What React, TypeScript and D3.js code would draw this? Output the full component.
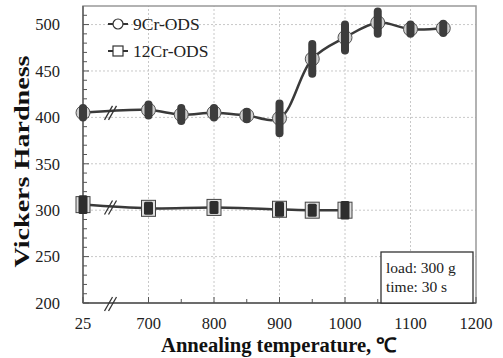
import React from "react";
import * as d3 from "d3";

// annealing temperatures (25 = as-received, drawn at the broken axis start)
const temps9Cr = [25, 700, 750, 800, 850, 900, 950, 1000, 1050, 1100, 1150];
const hv9Cr = [405, 408, 403, 405, 402, 399, 463, 486, 502, 495, 496];
const err9Cr = [5, 6, 7, 5, 4, 16, 16, 14, 12, 5, 5];

const temps12Cr = [25, 700, 800, 900, 950, 1000];
const hv12Cr = [306, 302, 303, 301, 300, 300];
const err12Cr = [10, 7, 7, 8, 7, 10];

const xTickValues = [600, 700, 800, 900, 1000, 1100, 1200];
const xTickLabels = ["25", "700", "800", "900", "1000", "1100", "1200"];
const yTicks = [200, 250, 300, 350, 400, 450, 500];

const W = 503;
const H = 358;
const m = { left: 83, right: 27, top: 6, bottom: 55 };

export default function App() {
  const x = d3.scaleLinear().domain([600, 1200]).range([m.left, W - m.right]);
  const y = d3.scaleLinear().domain([200, 520]).range([H - m.bottom, m.top]);
  const xPos = (t: number) => x(t === 25 ? 600 : t);

  const line = d3
    .line<[number, number]>()
    .x((d) => xPos(d[0]))
    .y((d) => y(d[1]))
    .curve(d3.curveCatmullRom.alpha(0.5));

  const pts9 = temps9Cr.map((t, i) => [t, hv9Cr[i]] as [number, number]);
  const pts12 = temps12Cr.map((t, i) => [t, hv12Cr[i]] as [number, number]);

  const x0 = x.range()[0];
  const x1 = x.range()[1];
  const y0 = y.range()[0];
  const y1 = y.range()[1];
  const minorX = [750, 850, 950, 1050, 1150];
  const minorY = d3.range(210, 520, 10).filter((v) => v % 50 !== 0);
  const breakX = x(642);

  const breakMark = (cx: number, cy: number, k: number) => (
    <g key={k} stroke="#333" strokeWidth={1.3}>
      <line x1={cx - 6} y1={cy + 8} x2={cx + 2} y2={cy - 6} />
      <line x1={cx - 2} y1={cy + 8} x2={cx + 6} y2={cy - 6} />
    </g>
  );

  return (
    <svg
      width={W}
      height={H}
      style={{ position: "absolute", left: 0, top: 0, background: "#fff" }}
      fontFamily="'Liberation Serif', 'Times New Roman', serif"
    >
      {/* grid */}
      <g stroke="#c8c8c8" strokeDasharray="2,2" strokeWidth={1}>
        {yTicks.slice(1).map((v) => (
          <line key={"gy" + v} x1={x0} x2={x1} y1={y(v)} y2={y(v)} />
        ))}
        {xTickValues.slice(1, -1).map((v) => (
          <line key={"gx" + v} x1={x(v)} x2={x(v)} y1={y0} y2={y1} />
        ))}
      </g>

      {/* frame */}
      <rect x={x0} y={y1} width={x1 - x0} height={y0 - y1} fill="none" stroke="#999" strokeWidth={1.5} />
      <line x1={x0} x2={x0} y1={y0} y2={y1} stroke="#555" strokeWidth={1.3} />
      <line x1={x0} x2={x1} y1={y0} y2={y0} stroke="#555" strokeWidth={1.3} />

      {/* ticks */}
      <g stroke="#555" strokeWidth={1}>
        {yTicks.map((v) => (
          <line key={"ty" + v} x1={x0} x2={x0 + 6} y1={y(v)} y2={y(v)} />
        ))}
        {minorY.map((v) => (
          <line key={"my" + v} x1={x0} x2={x0 + 4} y1={y(v)} y2={y(v)} />
        ))}
        {xTickValues.map((v) => (
          <line key={"tx" + v} x1={x(v)} x2={x(v)} y1={y0} y2={y0 - 6} />
        ))}
        {minorX.map((v) => (
          <line key={"mx" + v} x1={x(v)} x2={x(v)} y1={y0} y2={y0 - 4} />
        ))}
      </g>

      {/* tick labels */}
      <g fontSize={16.5} fill="#222">
        {yTicks.map((v) => (
          <text key={"ly" + v} x={x0 - 23} y={y(v)} dy="0.35em" textAnchor="end">
            {v}
          </text>
        ))}
        {xTickValues.map((v, i) => (
          <text key={"lx" + v} x={x(v)} y={y0 + 26} textAnchor="middle">
            {xTickLabels[i]}
          </text>
        ))}
      </g>

      {/* axis titles */}
      <text
        transform={`translate(29,${(y0 + y1) / 2 + 7}) rotate(-90)`}
        textAnchor="middle"
        fontWeight="bold"
        fontSize={20}
        textLength={212}
        lengthAdjust="spacingAndGlyphs"
        fill="#111"
      >
        Vickers Hardness
      </text>
      <text
        x={279}
        y={352}
        textAnchor="middle"
        fontWeight="bold"
        fontSize={20}
        textLength={236}
        lengthAdjust="spacingAndGlyphs"
        fill="#111"
      >
        Annealing temperature, ℃
      </text>

      {/* series lines */}
      <path d={line(pts9) ?? ""} fill="none" stroke="#3a3a3a" strokeWidth={2.5} />
      <path d={line(pts12) ?? ""} fill="none" stroke="#3a3a3a" strokeWidth={2.5} />

      {/* breaks */}
      {breakMark(breakX, y(hv9Cr[0] + 1), 1)}
      {breakMark(breakX, y(hv12Cr[0] - 2), 2)}
      {breakMark(breakX, y0, 3)}

      {/* 9Cr markers */}
      {pts9.map((d, i) => (
        <g key={"c" + i}>
          <circle cx={xPos(d[0])} cy={y(d[1])} r={7} fill="#cfcfcf" stroke="#555" strokeWidth={1} />
          <line
            x1={xPos(d[0])}
            x2={xPos(d[0])}
            y1={y(d[1] - err9Cr[i])}
            y2={y(d[1] + err9Cr[i])}
            stroke="#3d3d3d"
            strokeWidth={8}
            strokeLinecap="round"
          />
        </g>
      ))}

      {/* 12Cr markers */}
      {pts12.map((d, i) => (
        <g key={"s" + i}>
          <rect x={xPos(d[0]) - 7} y={y(d[1]) - 8} width={14} height={16} fill="#dedede" stroke="#444" strokeWidth={1} />
          <rect
            x={xPos(d[0]) - 4.5}
            y={y(d[1] + err12Cr[i])}
            width={9}
            height={y(d[1] - err12Cr[i]) - y(d[1] + err12Cr[i])}
            fill="#2e2e2e"
            rx={1.5}
          />
        </g>
      ))}

      {/* legend */}
      <g fontSize={17.5} fill="#222">
        <line x1={108} x2={128} y1={24} y2={24} stroke="#333" strokeWidth={2} />
        <circle cx={118} cy={24} r={5} fill="#fff" stroke="#333" strokeWidth={1.2} />
        <text x={133} y={24} dy="0.35em">9Cr-ODS</text>
        <line x1={108} x2={128} y1={51} y2={51} stroke="#333" strokeWidth={2} />
        <rect x={113} y={46} width={10} height={10} fill="#fff" stroke="#333" strokeWidth={1.2} />
        <text x={133} y={51} dy="0.35em">12Cr-ODS</text>
      </g>

      {/* conditions box */}
      <rect x={381} y={252} width={92} height={y0 - 252} fill="#fff" stroke="#333" strokeWidth={1.3} />
      <g fontSize={15.5} fill="#222">
        <text x={386} y={273}>load: 300 g</text>
        <text x={386} y={292}>time: 30 s</text>
      </g>
    </svg>
  );
}
